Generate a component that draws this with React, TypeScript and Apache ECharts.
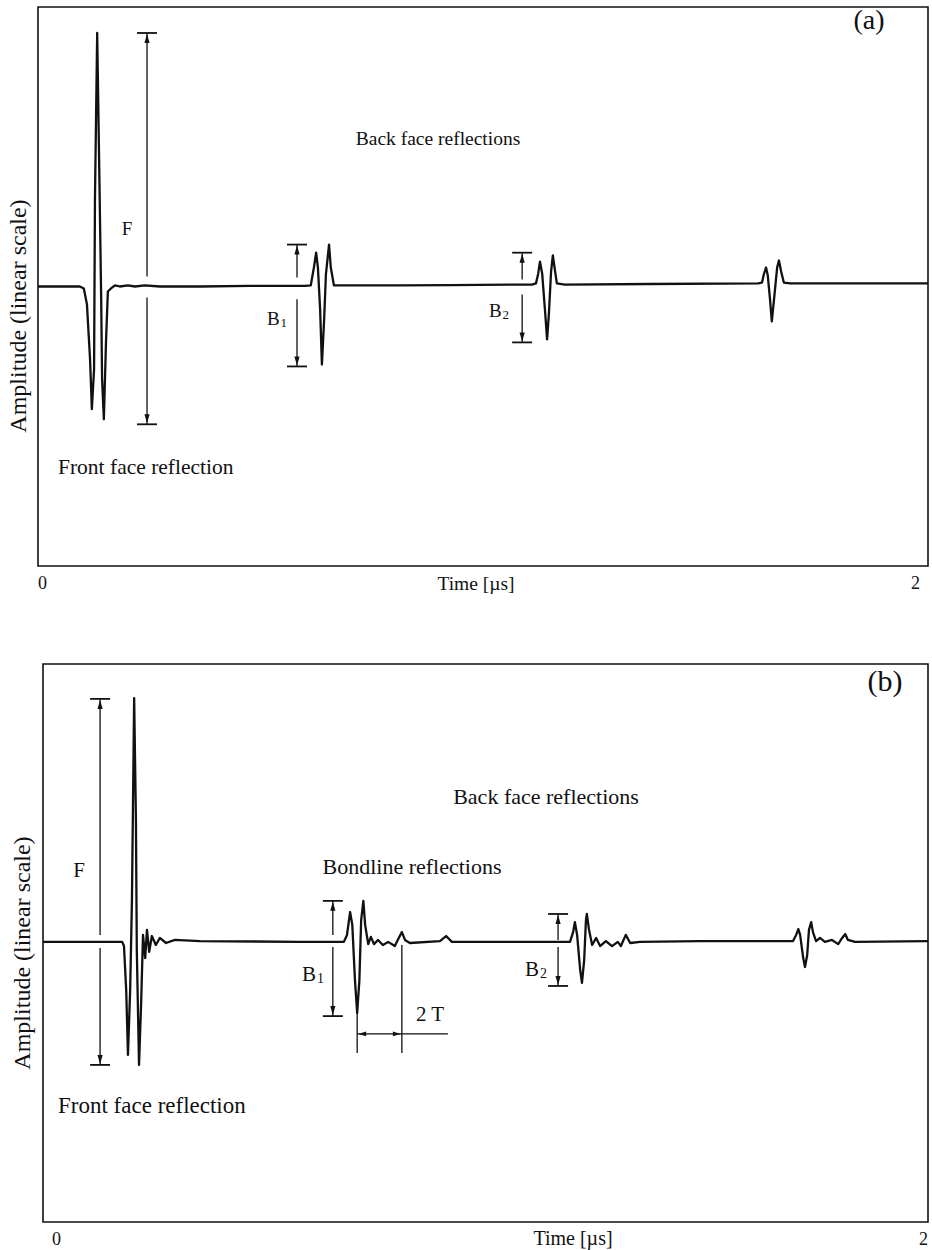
import React, { useEffect, useRef } from "react";
import * as echarts from "echarts";

// ---- data ----
const xTickLabels = ["0", "2"];
const timeMin = 0;
const timeMax = 2;
const ampMin = -1;
const ampMax = 1;
const xAxisName = "Time [µs]";
const yAxisName = "Amplitude (linear scale)";

// Panel (a) waveform: [time µs, amplitude]
const waveA: number[][] = [
  [0, 0], [0.094, 0], [0.103, -0.007], [0.110, -0.064], [0.117, -0.261], [0.121, -0.439],
  [0.126, -0.296], [0.128, 0.311], [0.133, 0.907], [0.137, 0.489], [0.142, -0.046],
  [0.144, -0.332], [0.148, -0.475], [0.153, -0.189], [0.157, -0.018], [0.164, -0.007],
  [0.173, 0.004], [0.184, 0], [0.202, 0.004], [0.218, 0], [0.240, 0.004], [0.274, 0],
  [0.364, 0], [0.476, 0.002], [0.600, 0.002], [0.613, 0.004], [0.620, 0.068], [0.625, 0.121],
  [0.629, 0.068], [0.634, -0.082], [0.638, -0.279], [0.643, -0.118], [0.647, 0.043],
  [0.654, 0.15], [0.658, 0.068], [0.665, 0.004], [0.690, 0.004], [0.813, 0.004],
  [0.926, 0.005], [1.110, 0.007], [1.119, 0.011], [1.124, 0.046], [1.128, 0.089],
  [1.133, 0.046], [1.140, -0.1], [1.144, -0.189], [1.148, -0.1], [1.153, 0.054],
  [1.157, 0.111], [1.162, 0.054], [1.166, 0.011], [1.184, 0.007], [1.375, 0.009],
  [1.618, 0.011], [1.627, 0.014], [1.631, 0.043], [1.636, 0.068], [1.640, 0.039],
  [1.645, -0.046], [1.649, -0.125], [1.654, -0.046], [1.661, 0.068], [1.665, 0.093],
  [1.670, 0.054], [1.676, 0.014], [1.690, 0.011], [2.0, 0.011],
];

// Panel (b) waveform: [time µs, amplitude]
const waveB: number[][] = [
  [0, 0.004], [0.179, 0.004], [0.183, -0.011], [0.188, -0.168], [0.192, -0.401],
  [0.197, -0.168], [0.201, 0.154], [0.206, 0.878], [0.210, 0.441], [0.212, -0.025],
  [0.217, -0.437], [0.222, -0.204], [0.226, 0.029], [0.231, -0.054], [0.235, 0.047],
  [0.240, -0.032], [0.246, 0.025], [0.255, -0.007], [0.264, 0.018], [0.278, 0],
  [0.298, 0.011], [0.355, 0.007], [0.581, 0.004], [0.680, 0.004], [0.687, 0.029],
  [0.694, 0.111], [0.699, 0.065], [0.705, -0.133], [0.710, -0.251], [0.715, -0.133],
  [0.719, 0.082], [0.724, 0.151], [0.728, 0.065], [0.735, -0.004], [0.741, 0.022],
  [0.748, -0.004], [0.757, 0.011], [0.768, -0.007], [0.780, 0.004], [0.795, -0.011],
  [0.804, 0.018], [0.811, 0.039], [0.818, 0.011], [0.829, 0], [0.897, 0.007],
  [0.911, 0.025], [0.924, 0.004], [1.033, 0.004], [1.191, 0.004], [1.198, 0.039],
  [1.202, 0.075], [1.207, 0.029], [1.214, -0.097], [1.218, -0.143], [1.223, -0.061],
  [1.227, 0.082], [1.229, 0.104], [1.234, 0.047], [1.241, -0.007], [1.250, 0.018],
  [1.259, -0.011], [1.272, 0.007], [1.286, -0.011], [1.299, 0.004], [1.306, -0.011],
  [1.317, 0.029], [1.327, 0], [1.349, 0.004], [1.485, 0.007], [1.695, 0.007],
  [1.702, 0.029], [1.707, 0.05], [1.711, 0.029], [1.718, -0.054], [1.722, -0.086],
  [1.727, -0.043], [1.731, 0.047], [1.736, 0.075], [1.740, 0.039], [1.747, 0.007],
  [1.756, 0.018], [1.767, 0.004], [1.783, 0.011], [1.797, -0.004], [1.806, 0.018],
  [1.813, 0.032], [1.819, 0.011], [1.835, 0.004], [2.0, 0.007],
];

// Dimension arrows: [time, top, upper end, lower start, bottom]
const dimsA: number[][] = [
  [0.245, 0.907, 0.036, -0.039, -0.493], // F
  [0.582, 0.15, 0.032, -0.046, -0.286], // B1
  [1.088, 0.121, 0.025, -0.029, -0.2], // B2
];
const dimsB: number[][] = [
  [0.129, 0.875, 0.029, -0.018, -0.437], // F
  [0.655, 0.151, 0.029, -0.014, -0.262], // B1
  [1.164, 0.104, 0.011, -0.014, -0.154], // B2
];
// 2T span: [t1, t2, tEnd, yLine, y1Top, y2Top, yBottom]
const spanB: number[][] = [[0.710, 0.811, 0.915, -0.326, -0.251, -0.007, -0.394]];

const FONT = "'Liberation Serif', 'DejaVu Serif', serif";
const INK = "#111";

function renderDim(_params: any, api: any) {
  const x = api.value(0);
  const pTop = api.coord([x, api.value(1)]);
  const pUp = api.coord([x, api.value(2)]);
  const pLow = api.coord([x, api.value(3)]);
  const pBot = api.coord([x, api.value(4)]);
  const hw = 10, ah = 10, aw = 2.6;
  const st = { stroke: INK, lineWidth: 1.3 };
  return {
    type: "group",
    children: [
      { type: "line", shape: { x1: pTop[0], y1: pTop[1], x2: pUp[0], y2: pUp[1] }, style: st },
      { type: "line", shape: { x1: pLow[0], y1: pLow[1], x2: pBot[0], y2: pBot[1] }, style: st },
      { type: "line", shape: { x1: pTop[0] - hw, y1: pTop[1], x2: pTop[0] + hw, y2: pTop[1] }, style: { stroke: INK, lineWidth: 1.8 } },
      { type: "line", shape: { x1: pBot[0] - hw, y1: pBot[1], x2: pBot[0] + hw, y2: pBot[1] }, style: { stroke: INK, lineWidth: 1.8 } },
      { type: "polygon", shape: { points: [[pTop[0], pTop[1] + 1], [pTop[0] - aw, pTop[1] + ah], [pTop[0] + aw, pTop[1] + ah]] }, style: { fill: INK } },
      { type: "polygon", shape: { points: [[pBot[0], pBot[1] - 1], [pBot[0] - aw, pBot[1] - ah], [pBot[0] + aw, pBot[1] - ah]] }, style: { fill: INK } },
    ],
  };
}

function renderSpan(_params: any, api: any) {
  const t1 = api.value(0), t2 = api.value(1), tEnd = api.value(2), yL = api.value(3);
  const a1 = api.coord([t1, api.value(4)]);
  const a2 = api.coord([t2, api.value(5)]);
  const b1 = api.coord([t1, api.value(6)]);
  const b2 = api.coord([t2, api.value(6)]);
  const h1 = api.coord([t1, yL]);
  const h2 = api.coord([tEnd, yL]);
  const h2b = api.coord([t2, yL]);
  const st = { stroke: INK, lineWidth: 1.3 };
  const ah = 9, aw = 2.4;
  return {
    type: "group",
    children: [
      { type: "line", shape: { x1: a1[0], y1: a1[1], x2: b1[0], y2: b1[1] }, style: st },
      { type: "line", shape: { x1: a2[0], y1: a2[1], x2: b2[0], y2: b2[1] }, style: st },
      { type: "line", shape: { x1: h1[0], y1: h1[1], x2: h2[0], y2: h2[1] }, style: st },
      { type: "polygon", shape: { points: [[h1[0] + 1, h1[1]], [h1[0] + ah, h1[1] - aw], [h1[0] + ah, h1[1] + aw]] }, style: { fill: INK } },
      { type: "polygon", shape: { points: [[h2b[0] - 1, h2b[1]], [h2b[0] - ah, h2b[1] - aw], [h2b[0] - ah, h2b[1] + aw]] }, style: { fill: INK } },
    ],
  };
}

function txt(text: string, x: number, y: number, size: number, align: string = "center", rotation: number = 0) {
  return {
    type: "text",
    x,
    y,
    rotation,
    style: {
      text,
      fill: INK,
      fontFamily: FONT,
      fontSize: size,
      align,
      verticalAlign: "middle",
    },
    silent: true,
  };
}

function subText(base: string, sub: string, x: number, y: number, size: number) {
  return {
    type: "text",
    x,
    y,
    style: {
      text: `{a|${base}}{b|${sub}}`,
      fill: INK,
      align: "center",
      verticalAlign: "middle",
      rich: {
        a: { fontFamily: FONT, fontSize: size, fill: INK, lineHeight: size + 4 },
        b: { fontFamily: FONT, fontSize: Math.round(size * 0.68), fill: INK, padding: [Math.round(size * 0.45), 0, 0, 1], lineHeight: size + 4 },
      },
    },
    silent: true,
  };
}

export default function App() {
  const ref = useRef<HTMLDivElement>(null);
  useEffect(() => {
    if (!ref.current) return;
    const chart = echarts.init(ref.current, undefined, { renderer: "svg" });
    const xAxisBase = (gridIndex: number, padding: number[]) => ({
      gridIndex,
      type: "value",
      min: timeMin,
      max: timeMax,
      interval: 2,
      axisLine: { show: false },
      axisTick: { show: false },
      splitLine: { show: false },
      axisLabel: {
        show: true,
        color: INK,
        fontFamily: FONT,
        fontSize: 18,
        margin: 8,
        padding,
        alignMinLabel: "left",
        alignMaxLabel: "right",
        formatter: (v: number) => (v === timeMin ? xTickLabels[0] : xTickLabels[1]),
      },
    });
    const yAxisBase = (gridIndex: number) => ({
      gridIndex,
      type: "value",
      min: ampMin,
      max: ampMax,
      axisLine: { show: false },
      axisTick: { show: false },
      splitLine: { show: false },
      axisLabel: { show: false },
    });
    const lineSeries = (idx: number, data: number[][]) => ({
      type: "line",
      xAxisIndex: idx,
      yAxisIndex: idx,
      data,
      showSymbol: false,
      symbol: "none",
      lineStyle: { color: INK, width: 2.3, join: "round" },
      silent: true,
    });
    chart.setOption({
      animation: false,
      backgroundColor: "#fff",
      grid: [
        { left: 38, top: 7, width: 890, height: 559, show: true, borderColor: INK, borderWidth: 1.6, backgroundColor: "transparent", outerBoundsMode: "none", containLabel: false },
        { left: 43, top: 664, width: 885, height: 558, show: true, borderColor: INK, borderWidth: 1.6, backgroundColor: "transparent", outerBoundsMode: "none", containLabel: false },
      ],
      xAxis: [xAxisBase(0, [0, 8, 0, 0]), xAxisBase(1, [0, 0, 0, 9])],
      yAxis: [yAxisBase(0), yAxisBase(1)],
      series: [
        lineSeries(0, waveA),
        lineSeries(1, waveB),
        { type: "custom", xAxisIndex: 0, yAxisIndex: 0, data: dimsA, renderItem: renderDim, encode: { x: 0, y: [1, 4] }, silent: true },
        { type: "custom", xAxisIndex: 1, yAxisIndex: 1, data: dimsB, renderItem: renderDim, encode: { x: 0, y: [1, 4] }, silent: true },
        { type: "custom", xAxisIndex: 1, yAxisIndex: 1, data: spanB, renderItem: renderSpan, encode: { x: [0, 2], y: [3, 6] }, silent: true },
      ],
      graphic: [
        // panel (a)
        txt("(a)", 869, 19, 28),
        txt("Back face reflections", 438, 138, 19.5),
        txt("F", 127, 228, 19),
        subText("B", "1", 277, 318, 19),
        subText("B", "2", 499, 310, 19),
        txt("Front face reflection", 58, 467, 21.5, "left"),
        txt(xAxisName, 476, 583, 19.5),
        txt(yAxisName, 18, 316, 24, "center", Math.PI / 2),
        // panel (b)
        txt("(b)", 885, 680, 30),
        txt("Back face reflections", 546, 796, 22),
        txt("Bondline reflections", 412, 866, 22),
        txt("F", 79, 870, 21),
        subText("B", "1", 313, 974, 21),
        subText("B", "2", 536, 969, 21),
        txt("2 T", 430, 1014, 21),
        txt("Front face reflection", 58, 1105, 23, "left"),
        txt(xAxisName, 573, 1238, 20),
        txt(yAxisName, 22, 953, 24, "center", Math.PI / 2),
      ],
    });
    return () => chart.dispose();
  }, []);
  return (
    <div
      ref={ref}
      style={{ position: "absolute", left: 0, top: 0, width: 932, height: 1250, background: "#fff" }}
    />
  );
}
